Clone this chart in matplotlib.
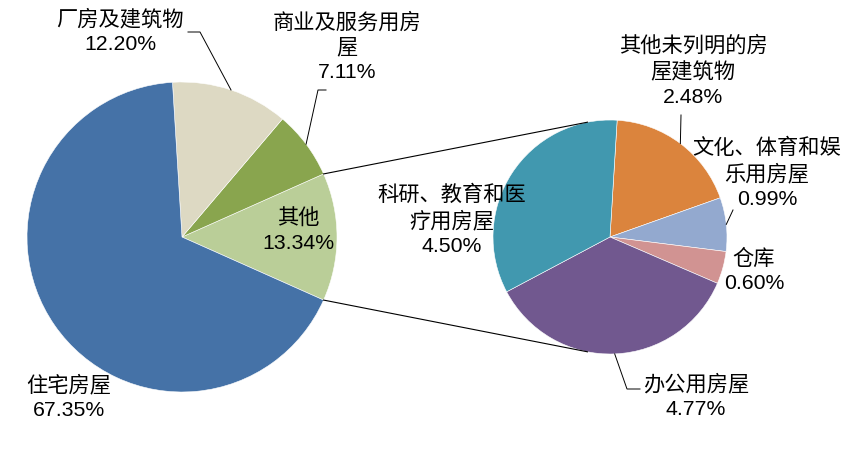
import numpy as np
import matplotlib
matplotlib.use("Agg")
import matplotlib.pyplot as plt

# main pie
main_labels = ["其他", "商业及服务用房\n屋", "厂房及建筑物", "住宅房屋"]
main_values = [13.34, 7.11, 12.20, 67.35]
main_colors = ["#BACE98", "#89A54E", "#DDD9C3", "#4572A7"]

# breakdown of "其他"
sub_labels = ["其他未列明的房\n屋建筑物", "文化、体育和娱\n乐用房屋", "仓库", "办公用房屋", "科研、教育和医\n疗用房屋"]
sub_values = [2.48, 0.99, 0.60, 4.77, 4.50]
sub_colors = ["#DB843D", "#93A9CF", "#D19392", "#71588F", "#4198AF"]

W, H = 853, 475
FONT = ["Liberation Sans", "Noto Sans CJK SC", "DejaVu Sans"]


def px(x, y):
    # pixel coords (y down) -> data coords (y up)
    return x, H - y


def edge(center, r, ang):
    a = np.radians(ang)
    return center[0] + r * np.cos(a), center[1] + r * np.sin(a)


fig = plt.figure(figsize=(W / 100, H / 100), dpi=100)
ax = fig.add_axes([0, 0, 1, 1])

c1, r1 = px(182, 237), 155
c2, r2 = px(610, 237), 117

half = main_values[0] / 100 * 360 / 2
w1, _ = ax.pie(main_values, colors=main_colors, center=c1, radius=r1,
               startangle=-half, counterclock=True,
               wedgeprops=dict(edgecolor="white", linewidth=0.4))
w2, _ = ax.pie(sub_values, colors=sub_colors, center=c2, radius=r2,
               startangle=86.5, counterclock=False,
               wedgeprops=dict(edgecolor="white", linewidth=0.4))

ax.set_xlim(0, W)
ax.set_ylim(0, H)
ax.set_aspect("equal")
ax.axis("off")

# connector lines: from edges of "其他" slice, tangent to the second pie
for ang in [w1[0].theta2, w1[0].theta1]:
    p = np.array(edge(c1, r1, ang))
    v = p - np.array(c2)
    d = np.hypot(*v)
    base = np.degrees(np.arctan2(v[1], v[0]))
    off = np.degrees(np.arccos(r2 / d))
    t = base - off if ang > 0 else base + off
    q = edge(c2, r2, t)
    ax.plot([p[0], q[0]], [p[1], q[1]], color="black", lw=0.8)


def pct(v):
    return f"{v:.2f}%"


# label positions (pixel coords)
main_pos = [(298, 231), (347, 47), (120, 31), (69, 397)]
sub_pos = [(693, 71), (767, 173), (754, 271), (696, 396), (452, 220)]

for lab, v, pos in zip(main_labels, main_values, main_pos):
    ax.text(*px(*pos), f"{lab}\n{pct(v)}", ha="center", va="center",
            fontsize=15.3, family=FONT, linespacing=1.36)
for lab, v, pos in zip(sub_labels, sub_values, sub_pos):
    ax.text(*px(*pos), f"{lab}\n{pct(v)}", ha="center", va="center",
            fontsize=15.3, family=FONT, linespacing=1.36)


def leader(wedge, center, r, pts):
    mid = (wedge.theta1 + wedge.theta2) / 2
    e = edge(center, r, mid)
    xs = [e[0]] + [px(*p)[0] for p in pts]
    ys = [e[1]] + [px(*p)[1] for p in pts]
    ax.plot(xs, ys, color="black", lw=0.7)


leader(w1[2], c1, r1, [(200, 32), (188, 32)])
leader(w1[1], c1, r1, [(318, 90), (326, 90)])
leader(w2[0], c2, r2, [(681, 115)])
leader(w2[1], c2, r2, [(733, 210)])
leader(w2[3], c2, r2, [(627, 389), (640, 389)])

fig.savefig("out.png", dpi=100, facecolor="white")
